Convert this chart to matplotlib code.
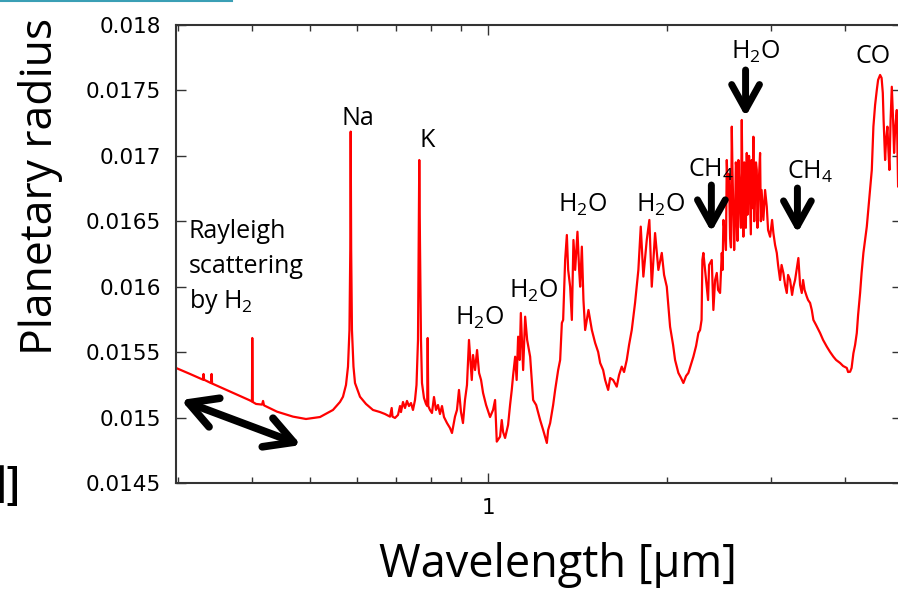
import matplotlib
matplotlib.use("Agg")
import matplotlib.pyplot as plt
import matplotlib.ticker as mticker
from matplotlib.lines import Line2D
import numpy as np

# Transmission spectrum: wavelength [um] and planetary radius
# Rayleigh slope + Na / K lines
wl_uv = [0.2977, 0.3144, 0.3307, 0.3313, 0.3320, 0.3411, 0.3418, 0.3425, 0.3672, 0.3953,
         0.3998, 0.4003, 0.4010, 0.4062, 0.4158, 0.4174, 0.4190, 0.4406, 0.4689, 0.4931,
         0.5207, 0.5476, 0.5627, 0.5693, 0.5760, 0.5805, 0.5838, 0.5857, 0.5866, 0.5877,
         0.5895, 0.5930, 0.5965, 0.6082, 0.6225, 0.6396, 0.6573, 0.6702, 0.6833, 0.6878,
         0.6900, 0.6967, 0.7049, 0.7104, 0.7131, 0.7187, 0.7243, 0.7299, 0.7356, 0.7414,
         0.7471, 0.7530, 0.7574, 0.7618, 0.7639, 0.7656, 0.7677, 0.7707, 0.7737, 0.7797,
         0.7858, 0.7895, 0.7910, 0.7929, 0.7981]
r_uv = [0.015379, 0.015333, 0.015289, 0.015333, 0.015289, 0.015263, 0.015333, 0.015260, 0.015199, 0.015134,
        0.015123, 0.015608, 0.015119, 0.015104, 0.015099, 0.015127, 0.015093, 0.015045, 0.015007, 0.014989,
        0.015004, 0.015058, 0.015119, 0.015159, 0.015249, 0.015389, 0.015669, 0.016281, 0.017185, 0.016281,
        0.015669, 0.015389, 0.015264, 0.015159, 0.015104, 0.015058, 0.015042, 0.015027, 0.015007, 0.015073,
        0.015007, 0.014997, 0.015020, 0.015088, 0.015042, 0.015119, 0.015073, 0.015127, 0.015088, 0.015111,
        0.015058, 0.015134, 0.015249, 0.015593, 0.016334, 0.016968, 0.016334, 0.015593, 0.015264, 0.015150,
        0.015104, 0.015088, 0.015608, 0.015088, 0.015058]

# 0.8 - 1.32 um (two water bands)
wl_h2o_a = [0.8043, 0.8106, 0.8169, 0.8233, 0.8297, 0.8362, 0.8427, 0.8526, 0.8626, 0.8693,
            0.8795, 0.8863, 0.8932, 0.9002, 0.9072, 0.9143, 0.9214, 0.9286, 0.9387, 0.9434,
            0.9508, 0.9582, 0.9657, 0.9732, 0.9808, 0.9923, 1.0078, 1.0196, 1.0276, 1.0344,
            1.0477, 1.0546, 1.0600, 1.0683, 1.0808, 1.0892, 1.0964, 1.1023, 1.1109, 1.1174,
            1.1239, 1.1305, 1.1357, 1.1415, 1.1459, 1.1549, 1.1639, 1.1775, 1.1913, 1.2053,
            1.2241, 1.2385, 1.2564, 1.2628, 1.2726, 1.2875, 1.2976, 1.3128, 1.3230]
r_h2o_a = [0.015035, 0.015157, 0.015058, 0.015096, 0.015027, 0.015088, 0.015004, 0.014958, 0.014920, 0.014882,
           0.015007, 0.015058, 0.015211, 0.015042, 0.014958, 0.015134, 0.015249, 0.015593, 0.015287, 0.015478,
           0.015363, 0.015516, 0.015341, 0.015287, 0.015188, 0.015096, 0.015004, 0.015058, 0.015134, 0.014816,
           0.014854, 0.014981, 0.014890, 0.014844, 0.014943, 0.015096, 0.015211, 0.015325, 0.015465, 0.015287,
           0.015618, 0.015440, 0.015799, 0.015555, 0.015363, 0.015771, 0.015593, 0.015465, 0.015134, 0.015096,
           0.014981, 0.014905, 0.014806, 0.014905, 0.014958, 0.015096, 0.015211, 0.015363, 0.015440]

# 1.33 - 2.28 um
wl_h2o_b = [1.3318, 1.3385, 1.3489, 1.3579, 1.3648, 1.3754, 1.3845, 1.3931, 1.4024, 1.4150,
            1.4243, 1.4299, 1.4393, 1.4483, 1.4579, 1.4767, 1.4963, 1.5156, 1.5334, 1.5453,
            1.5634, 1.5756, 1.5941, 1.6065, 1.6253, 1.6482, 1.6630, 1.6805, 1.6956, 1.7135,
            1.7289, 1.7471, 1.7696, 1.7925, 1.8092, 1.8276, 1.8519, 1.8707, 1.8882, 1.9126,
            1.9373, 1.9631, 1.9807, 2.0016, 2.0274, 2.0512, 2.0671, 2.0938, 2.1159, 2.1348,
            2.1574, 2.1767, 2.1997, 2.2194, 2.2428, 2.2629, 2.2778]
r_h2o_b = [0.015723, 0.015746, 0.016204, 0.016395, 0.016128, 0.016000, 0.015746, 0.016357, 0.016128, 0.016420,
           0.016128, 0.016000, 0.016306, 0.015898, 0.015669, 0.015822, 0.015669, 0.015570, 0.015501, 0.015417,
           0.015363, 0.015287, 0.015211, 0.015302, 0.015287, 0.015236, 0.015325, 0.015389, 0.015348, 0.015440,
           0.015555, 0.015669, 0.015876, 0.016128, 0.016459, 0.016077, 0.016357, 0.016510, 0.016000, 0.016410,
           0.016128, 0.016258, 0.016090, 0.016000, 0.015694, 0.015555, 0.015440, 0.015341, 0.015302, 0.015264,
           0.015318, 0.015341, 0.015409, 0.015465, 0.015547, 0.015646, 0.015669]

# 2.29 - 3.36 um (CH4 + strong H2O band)
wl_ir = [2.2911, 2.2983, 2.3072, 2.3225, 2.3379, 2.3497, 2.3589, 2.3837, 2.3986, 2.4145,
         2.4305, 2.4428, 2.4618, 2.4781, 2.4860, 2.4936, 2.5101, 2.5184, 2.5267, 2.5395,
         2.5480, 2.5593, 2.5680, 2.5762, 2.5830, 2.5893, 2.6000, 2.6095, 2.6170, 2.6247,
         2.6340, 2.6431, 2.6520, 2.6606, 2.6690, 2.6782, 2.6860, 2.6949, 2.7040, 2.7128,
         2.7210, 2.7307, 2.7380, 2.7446, 2.7550, 2.7659, 2.7740, 2.7821, 2.7920, 2.8017,
         2.8110, 2.8202, 2.8300, 2.8389, 2.8460, 2.8532, 2.8640, 2.8755, 2.8840, 2.8923,
         2.9126, 2.9319, 2.9513, 2.9662, 2.9894, 3.0127, 3.0279, 3.0479, 3.0682, 3.0837,
         3.1077, 3.1258, 3.1478, 3.1686, 3.1896, 3.2057, 3.2307, 3.2560, 3.2724, 3.2941,
         3.3133, 3.3365, 3.3587]
r_ir = [0.015746, 0.016204, 0.016258, 0.016128, 0.016000, 0.015898, 0.016166, 0.016204, 0.015822, 0.016051,
        0.016105, 0.015975, 0.015952, 0.016258, 0.016128, 0.016510, 0.016395, 0.016280, 0.016968, 0.016663,
        0.016860, 0.016382, 0.016300, 0.017223, 0.016900, 0.016663, 0.016280, 0.016510, 0.016950, 0.016892,
        0.016350, 0.016968, 0.016800, 0.016586, 0.016450, 0.017274, 0.016700, 0.016382, 0.016950, 0.016815,
        0.016450, 0.017022, 0.016550, 0.016663, 0.017000, 0.016640, 0.016400, 0.016968, 0.016600, 0.017146,
        0.016500, 0.016739, 0.016950, 0.016892, 0.016450, 0.016586, 0.016850, 0.017022, 0.016500, 0.016739,
        0.016510, 0.016739, 0.016611, 0.016433, 0.016382, 0.016510, 0.016410, 0.016319, 0.016258, 0.016166,
        0.016051, 0.016166, 0.016105, 0.016013, 0.015952, 0.016090, 0.016051, 0.015937, 0.016000, 0.016051,
        0.016128, 0.016219, 0.016013]

# 3.38 - 5 um (CO band)
wl_co = [3.3809, 3.3980, 3.4179, 3.4472, 3.4646, 3.4916, 3.5148, 3.5367, 3.5740, 3.6300,
         3.6725, 3.7257, 3.7738, 3.8224, 3.8628, 3.9232, 3.9692, 4.0266, 4.0470, 4.0786,
         4.1024, 4.1311, 4.1585, 4.1860, 4.2073, 4.2401, 4.2648, 4.2947, 4.3231, 4.3518,
         4.3909, 4.4371, 4.4648, 4.4943, 4.5241, 4.5470, 4.5825, 4.6093, 4.6308, 4.6452,
         4.6723, 4.6905, 4.7143, 4.7326, 4.7510, 4.7732, 4.7955, 4.8198, 4.8384, 4.8573,
         4.8895, 4.9142, 4.9525, 4.9911]
r_co = [0.015952, 0.016051, 0.015975, 0.015924, 0.015898, 0.015876, 0.015822, 0.015746, 0.015707, 0.015646,
        0.015593, 0.015542, 0.015501, 0.015465, 0.015440, 0.015417, 0.015394, 0.015379, 0.015348, 0.015350,
        0.015379, 0.015491, 0.015555, 0.015646, 0.015784, 0.015952, 0.016105, 0.016258, 0.016357, 0.016459,
        0.016663, 0.016892, 0.017223, 0.017389, 0.017503, 0.017580, 0.017618, 0.017595, 0.017480, 0.017274,
        0.016968, 0.017121, 0.017223, 0.017045, 0.016892, 0.017274, 0.017528, 0.017274, 0.017022, 0.017198,
        0.017350, 0.016764, 0.017045, 0.016892]

wavelength = np.concatenate([wl_uv, wl_h2o_a, wl_h2o_b, wl_ir, wl_co])
radius = np.concatenate([r_uv, r_h2o_a, r_h2o_b, r_ir, r_co])

y_ticks = [0.0145, 0.015, 0.0155, 0.016, 0.0165, 0.017, 0.0175, 0.018]

# molecule labels: (text, wavelength, radius at baseline)
labels = [("Na", 0.6029, 0.017236), ("K", 0.7880, 0.017070),
          ("H$_2$O", 0.9694, 0.015707), ("H$_2$O", 1.1955, 0.015914),
          ("H$_2$O", 1.4434, 0.016569), ("H$_2$O", 1.9540, 0.016571),
          ("H$_2$O", 2.8310, 0.017738), ("CH$_4$", 2.3770, 0.016836),
          ("CH$_4$", 3.4910, 0.016828), ("CO", 4.4600, 0.017707)]

# down arrows: (wavelength, tail radius, tip radius)
arrows = [(2.380, 0.016777, 0.016418), (2.718, 0.017656, 0.017299), (3.324, 0.016754, 0.016410)]

plt.rcParams['font.family'] = ['DejaVu Sans']
plt.rcParams['mathtext.default'] = 'regular'

fig = plt.figure(figsize=(8.98, 5.89), dpi=100)
ax = fig.add_axes([0.196, 0.18, 0.8085, 0.7776])

ax.plot(wavelength, radius, color='#ff0000', lw=1.6)

ax.set_xscale('log')
ax.set_xlim(0.2977, 4.99)
ax.set_ylim(0.0145, 0.018)
ax.set_yticks(y_ticks)
ax.yaxis.set_major_formatter(mticker.FuncFormatter(lambda v, p: f"{v:g}"))
ax.xaxis.set_major_locator(mticker.FixedLocator([1.0]))
ax.xaxis.set_major_formatter(mticker.FixedFormatter(["1"]))
ax.xaxis.set_minor_locator(mticker.LogLocator(base=10, subs=np.arange(2, 10)))
ax.xaxis.set_minor_formatter(mticker.NullFormatter())

ax.tick_params(which='both', direction='in', top=True, right=True, width=1.0, color='#333333')
ax.tick_params(which='major', length=7, labelsize=15.5, pad=11)
ax.tick_params(which='minor', length=4)
for s in ax.spines.values():
    s.set_linewidth(1.5)
    s.set_color('#333333')

# text annotations
for txt, x, y in labels:
    ax.text(x, y, txt, ha='center', va='baseline', fontsize=18, family='Open Sans')

ax.text(0.3131, 0.016372, "Rayleigh", ha='left', va='baseline', fontsize=18, family='Open Sans')
ax.text(0.3131, 0.016105, "scattering", ha='left', va='baseline', fontsize=18, family='Open Sans')
ax.text(0.3131, 0.015837, "by H$_2$", ha='left', va='baseline', fontsize=18, family='Open Sans')

for x, y0, y1 in arrows:
    ax.annotate('', xy=(x, y1), xytext=(x, y0),
                arrowprops=dict(arrowstyle='->, head_length=0.9, head_width=0.5',
                                lw=5, color='black', mutation_scale=20,
                                shrinkA=0, shrinkB=0))

ax.annotate('', xy=(0.3035, 0.015134), xytext=(0.4838, 0.014790),
            arrowprops=dict(arrowstyle='<->, head_length=1.0, head_width=0.55',
                            lw=5.5, color='black', mutation_scale=20,
                            shrinkA=0, shrinkB=0))

# axis titles
fig.text(558 / 898, 1 - 577 / 589, "Wavelength [µm]", ha='center', va='baseline',
         fontsize=32.5, family='Open Sans')
fig.text(18 / 898, 1 - 355 / 589, "Planetary radius", rotation=90, ha='left', va='bottom',
         fontsize=32, family='Open Sans')

# leftover bits of the slide
fig.text(22 / 898, 1 - 487 / 589, "図]", ha='right', va='center', fontsize=30,
         fontweight='bold', family=['Noto Sans CJK JP', 'DejaVu Sans'])
fig.add_artist(Line2D([0, 232 / 898], [1 - 1 / 589, 1 - 1 / 589], transform=fig.transFigure,
                      color='#3a9fb5', lw=1.5))

fig.savefig('out.png', dpi=100)
